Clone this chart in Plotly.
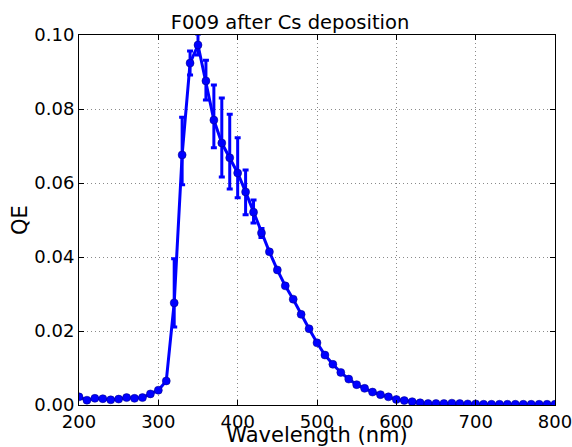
import plotly.graph_objects as go

wavelength = list(range(200, 801, 10))
qe = [0.0022, 0.0013, 0.0018, 0.0017, 0.0014, 0.0016, 0.0020, 0.0018, 0.0020, 0.0030,
      0.0040, 0.0065, 0.0276, 0.0676, 0.0924, 0.0973, 0.0876, 0.0770, 0.0708, 0.0668,
      0.0627, 0.0576, 0.0521, 0.0465, 0.0414, 0.0365, 0.0322, 0.0286, 0.0245, 0.0206,
      0.0168, 0.0135, 0.0110, 0.0088, 0.0070, 0.0055, 0.0045, 0.0035, 0.0028, 0.0022,
      0.0015, 0.0012, 0.0009, 0.0006, 0.0004, 0.0004, 0.0004, 0.0005, 0.0004, 0.0003,
      0.0003, 0.0002, 0.0002, 0.0002, 0.0002, 0.0002, 0.0002, 0.0002, 0.0002, 0.0002,
      0.0002]
err_plus = [0] * 12 + [0.0119, 0.0102, 0.0033, 0.0030, 0.0056, 0.0095, 0.0122, 0.0118,
                       0.0095, 0.0059, 0.0033, 0.0012] + [0] * 37
err_minus = [0] * 12 + [0.0065, 0.0081, 0.0032, 0.0027, 0.0052, 0.0075, 0.0092, 0.0084,
                        0.0067, 0.0062, 0.0029, 0.0012] + [0] * 37

x_ticks = [200, 300, 400, 500, 600, 700, 800]
y_ticks = [0.00, 0.02, 0.04, 0.06, 0.08, 0.10]
y_tick_labels = ["0.00", "0.02", "0.04", "0.06", "0.08", "0.10"]

fig = go.Figure()
fig.add_trace(go.Scatter(
    x=wavelength, y=qe, mode="lines+markers",
    line=dict(color="#0000ff", width=3),
    marker=dict(color="#0000ff", size=8, line=dict(color="#000080", width=0.5)),
    error_y=dict(type="data", symmetric=False, array=err_plus, arrayminus=err_minus,
                 color="#0000ff", thickness=3, width=3),
))

font = "DejaVu Sans, Arial, sans-serif"
grid = dict(showgrid=True, gridcolor="#8a8a8a", griddash="1px,3px", gridwidth=1)
fig.update_layout(
    width=572, height=447,
    margin=dict(l=79, r=17, t=35, b=42),
    paper_bgcolor="white", plot_bgcolor="white",
    showlegend=False,
    font=dict(family=font, size=19, color="black"),
    title=dict(text="F009 after Cs deposition", x=290 / 572, xref="container",
               xanchor="center", y=1 - 22 / 447, yref="container", yanchor="middle",
               font=dict(family=font, size=19.5, color="black")),
    xaxis=dict(range=[200, 800], tickvals=x_ticks, ticks="inside", ticklen=5,
               tickcolor="black", showline=True, linecolor="black", linewidth=1,
               mirror="allticks", zeroline=False, automargin=False,
               ticklabeloverflow="allow",
               title=dict(text="Wavelength (nm)", font=dict(size=21), standoff=0),
               tickfont=dict(size=18)),
    yaxis=dict(range=[0, 0.1], tickvals=y_ticks, ticktext=y_tick_labels, ticks="inside",
               ticklen=5, tickcolor="black", showline=True, linecolor="black", linewidth=1,
               mirror="allticks", zeroline=False, automargin=False,
               ticklabeloverflow="allow",
               title=dict(text="QE", font=dict(size=21), standoff=0),
               tickfont=dict(size=18)),
)
fig.update_xaxes(**grid)
fig.update_yaxes(**grid)
fig.write_html("out.html")
